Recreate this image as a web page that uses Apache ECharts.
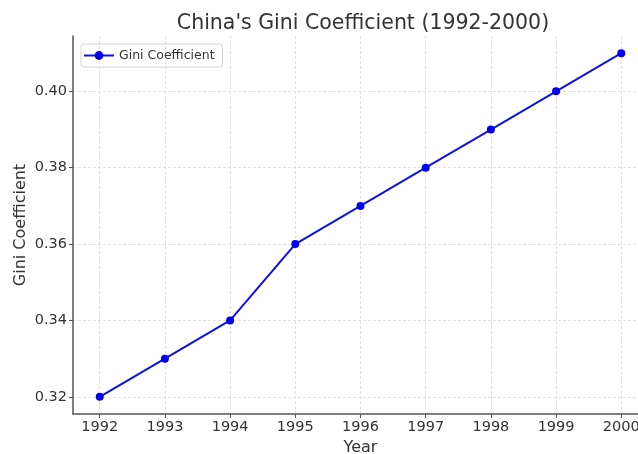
<!DOCTYPE html>
<html>
<head>
<meta charset="utf-8">
<script src="https://cdn.jsdelivr.net/npm/echarts@6/dist/echarts.min.js"></script>
<style>
  html, body { margin: 0; padding: 0; background: #fff; }
  #chart { width: 638px; height: 454px; }
</style>
</head>
<body>
<div id="chart"></div>
<script>
// Gini coefficient of China by year
const years = [1992, 1993, 1994, 1995, 1996, 1997, 1998, 1999, 2000];
const gini = [0.32, 0.33, 0.34, 0.36, 0.37, 0.38, 0.39, 0.40, 0.41];
const yTicks = [0.32, 0.34, 0.36, 0.38, 0.40];

const font = 'DejaVu Sans';
const chart = echarts.init(document.getElementById('chart'), null, { renderer: 'canvas' });

const gridLine = { show: true, lineStyle: { color: '#d8d8d8', type: [3, 2], width: 0.8 } };

chart.setOption({
  animation: false,
  backgroundColor: '#fff',
  title: {
    text: "China's Gini Coefficient (1992-2000)",
    left: 358, top: 8, textAlign: 'center',
    textStyle: { fontFamily: font, fontSize: 20.5, fontWeight: 'normal', color: '#333' }
  },
  legend: {
    left: 81, top: 44,
    padding: [5, 8, 5, 2],
    borderColor: '#d4d4d4', borderWidth: 1, borderRadius: 3,
    itemWidth: 30, itemHeight: 11, itemGap: 6,
    textStyle: { fontFamily: font, fontSize: 12.5, color: '#333' },
    data: ['Gini Coefficient']
  },
  grid: { left: 73, top: 36, width: 575, bottom: 40, outerBoundsMode: 'none', containLabel: false },
  xAxis: {
    type: 'value',
    min: 1991.59, max: 2000.41,
    name: 'Year', nameLocation: 'middle', nameGap: 26, nameMoveOverlap: false,
    nameTextStyle: { fontFamily: font, fontSize: 16, color: '#333' },
    axisLine: { onZero: false, lineStyle: { color: '#555', width: 1.5 } },
    axisTick: { show: true, customValues: years, length: 4, lineStyle: { color: '#555' } },
    axisLabel: { customValues: years, fontFamily: font, fontSize: 14.5, color: '#333', margin: 6,
                 formatter: v => String(v) },
    splitLine: gridLine
  },
  yAxis: {
    type: 'value',
    min: 0.3155, max: 0.4145,
    name: 'Gini Coefficient', nameLocation: 'middle', nameGap: 44, nameRotate: 90, nameMoveOverlap: false,
    nameTextStyle: { fontFamily: font, fontSize: 16, color: '#333' },
    axisLine: { show: true, onZero: false, lineStyle: { color: '#555', width: 1.5 } },
    axisTick: { show: true, customValues: yTicks, length: 4, lineStyle: { color: '#555' } },
    axisLabel: { customValues: yTicks, fontFamily: font, fontSize: 14.5, color: '#333', margin: 6,
                 formatter: v => v.toFixed(2) },
    splitLine: gridLine
  },
  series: [{
    name: 'Gini Coefficient',
    type: 'line',
    data: years.map((y, i) => [y, gini[i]]),
    color: '#0000ee',
    lineStyle: { width: 2, color: '#1010e0' },
    symbol: 'circle', symbolSize: 8,
    itemStyle: { color: '#0000ee' },
    clip: false
  }]
});
</script>
</body>
</html>
